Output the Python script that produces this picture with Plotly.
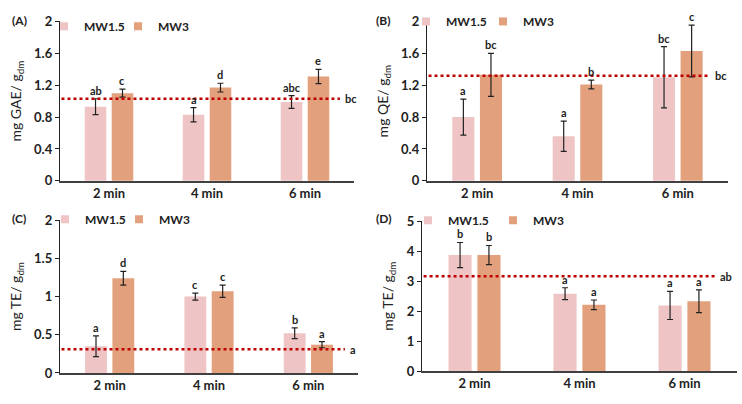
import plotly.graph_objects as go

categories = ["2 min", "4 min", "6 min"]
series_names = ["MW1.5", "MW3"]
colors = ["#EEC4C5", "#E3A07C"]

# Panel A: GAE
A_mw15 = [0.93, 0.83, 0.99]
A_mw15_err = [0.10, 0.09, 0.08]
A_mw3 = [1.10, 1.17, 1.31]
A_mw3_err = [0.05, 0.055, 0.09]
A_ref = 1.03
A_ref_letter = "bc"
A_letters_mw15 = ["ab", "a", "abc"]
A_letters_mw3 = ["c", "d", "e"]

# Panel B: QE
B_mw15 = [0.80, 0.56, 1.30]
B_mw15_err = [0.225, 0.19, 0.385]
B_mw3 = [1.33, 1.21, 1.63]
B_mw3_err = [0.27, 0.055, 0.325]
B_ref = 1.32
B_ref_letter = "bc"
B_letters_mw15 = ["a", "a", "bc"]
B_letters_mw3 = ["bc", "b", "c"]

# Panel C: TE
C_mw15 = [0.35, 1.00, 0.52]
C_mw15_err = [0.135, 0.046, 0.07]
C_mw3 = [1.24, 1.07, 0.37]
C_mw3_err = [0.09, 0.08, 0.04]
C_ref = 0.31
C_ref_letter = "a"
C_letters_mw15 = ["a", "c", "b"]
C_letters_mw3 = ["d", "c", "a"]

# Panel D: TE
D_mw15 = [3.87, 2.58, 2.19]
D_mw15_err = [0.42, 0.20, 0.47]
D_mw3 = [3.87, 2.21, 2.33]
D_mw3_err = [0.32, 0.16, 0.38]
D_ref = 3.16
D_ref_letter = "ab"
D_letters_mw15 = ["b", "a", "a"]
D_letters_mw3 = ["b", "a", "a"]

W, H = 742, 404
FONT = "Lato"

panels = [
    dict(tag="(A)", ax="", mw15=A_mw15, e15=A_mw15_err, mw3=A_mw3, e3=A_mw3_err, ref=A_ref, refl=A_ref_letter,
         l15=A_letters_mw15, l3=A_letters_mw3, xpx=(60, 354), ypx=(14, 180), yr=[0, 2], dt=0.4,
         title="mg GAE/ g<sub>dm</sub>", dash_end=0.952, leg=((44, 118), 19), tagpos=(10, 13)),
    dict(tag="(B)", ax="2", mw15=B_mw15, e15=B_mw15_err, mw3=B_mw3, e3=B_mw3_err, ref=B_ref, refl=B_ref_letter,
         l15=B_letters_mw15, l3=B_letters_mw3, xpx=(427, 728), ypx=(14, 180), yr=[0, 2], dt=0.4,
         title="mg QE/ g<sub>dm</sub>", dash_end=0.94, leg=((406, 483), 14), tagpos=(374, 13)),
    dict(tag="(C)", ax="3", mw15=C_mw15, e15=C_mw15_err, mw3=C_mw3, e3=C_mw3_err, ref=C_ref, refl=C_ref_letter,
         l15=C_letters_mw15, l3=C_letters_mw3, xpx=(60, 358), ypx=(221, 380), yr=[0, 2], dt=0.5,
         title="mg TE/ g<sub>dm</sub>", dash_end=0.956, leg=((45, 119), 220), tagpos=(10, 219)),
    dict(tag="(D)", ax="4", mw15=D_mw15, e15=D_mw15_err, mw3=D_mw3, e3=D_mw3_err, ref=D_ref, refl=D_ref_letter,
         l15=D_letters_mw15, l3=D_letters_mw3, xpx=(422, 737), ypx=(222, 378), yr=[0, 5], dt=1,
         title="mg TE/ g<sub>dm</sub>", dash_end=0.93, leg=((408, 493), 221), tagpos=(374, 219)),
]

fig = go.Figure()
layout = dict(width=W, height=H, margin=dict(l=0, r=0, t=0, b=0),
              paper_bgcolor="white", plot_bgcolor="white",
              font=dict(family=FONT, color="#222222"),
              barmode="group", bargap=0.45, bargroupgap=0.2, showlegend=True)
annotations = []
shapes = []
offset = 0.1375

for i, p in enumerate(panels):
    ax = p["ax"]
    xa = "x" + ax
    ya = "y" + ax
    vals = [(p["mw15"], p["e15"], p["l15"]), (p["mw3"], p["e3"], p["l3"])]
    for s, (v, e, letters) in enumerate(vals):
        idx = 2 * i + s + 1
        legname = "legend" if idx == 1 else "legend%d" % idx
        fig.add_trace(go.Bar(
            x=categories, y=v, name=series_names[s], marker_color=colors[s],
            marker_line_width=0, showlegend=False, xaxis=xa, yaxis=ya,
            error_y=dict(type="data", array=e, color="#222222", thickness=1.2, width=3),
        ))
        fig.add_trace(go.Scatter(
            x=[None], y=[None], mode="markers", name="<b>%s</b>" % series_names[s],
            marker=dict(symbol="square", size=8, color=colors[s]),
            xaxis=xa, yaxis=ya, legend=legname, showlegend=True,
        ))
        layout[legname] = dict(x=p["leg"][0][s] / W, y=1 - p["leg"][1] / H, xanchor="left", yanchor="middle",
                               orientation="h", bgcolor="rgba(0,0,0,0)", borderwidth=0,
                               font=dict(size=12, family=FONT, color="#222222"),
                               itemwidth=30, tracegroupgap=0)
        for j in range(len(categories)):
            annotations.append(dict(
                x=j + (-offset if s == 0 else offset), y=v[j] + e[j], xref=xa, yref=ya,
                text="<b>%s</b>" % letters[j], showarrow=False, yanchor="bottom",
                yshift=0, font=dict(size=11, family=FONT, color="#222222")))
    x0, x1 = p["xpx"]
    yt, yb = p["ypx"]
    xkey = "xaxis" + ax
    ykey = "yaxis" + ax
    layout[xkey] = dict(domain=[x0 / W, x1 / W], anchor=ya, type="category",
                        showline=True, linecolor="#404040", linewidth=1.5, ticks="",
                        showgrid=False, tickfont=dict(size=13, family=FONT, color="#222222"),
                        tickprefix="<b>", ticksuffix="</b>", fixedrange=True)
    layout[ykey] = dict(domain=[1 - yb / H, 1 - yt / H], anchor=xa, range=p["yr"], dtick=p["dt"],
                        showline=True, linecolor="#222222", linewidth=1.3, ticks="outside",
                        ticklen=4, tickcolor="#222222", tickwidth=1.2, showgrid=False, zeroline=False,
                        tickfont=dict(size=13, family=FONT, color="#222222"),
                        tickprefix="<b>", ticksuffix="</b>",
                        title=dict(text=p["title"], font=dict(size=14, family=FONT, color="#222222"),
                                   standoff=9))
    shapes.append(dict(type="line", xref=xa + " domain", yref=ya, x0=0.005, x1=p["dash_end"],
                       y0=p["ref"], y1=p["ref"], line=dict(color="#C00000", width=2.5, dash="dot")))
    annotations.append(dict(x=p["dash_end"] + 0.01, y=p["ref"], xref=xa + " domain", yref=ya,
                            text="<b>%s</b>" % p["refl"], showarrow=False, xanchor="left",
                            font=dict(size=11, family=FONT, color="#222222")))
    annotations.append(dict(x=p["tagpos"][0] / W, y=1 - p["tagpos"][1] / H, xref="paper", yref="paper",
                            text="<b>%s</b>" % p["tag"], showarrow=False, xanchor="left", yanchor="middle",
                            font=dict(size=12, family=FONT, color="#222222")))

layout["annotations"] = annotations
layout["shapes"] = shapes
fig.update_layout(**layout)
fig.write_html("out.html")
